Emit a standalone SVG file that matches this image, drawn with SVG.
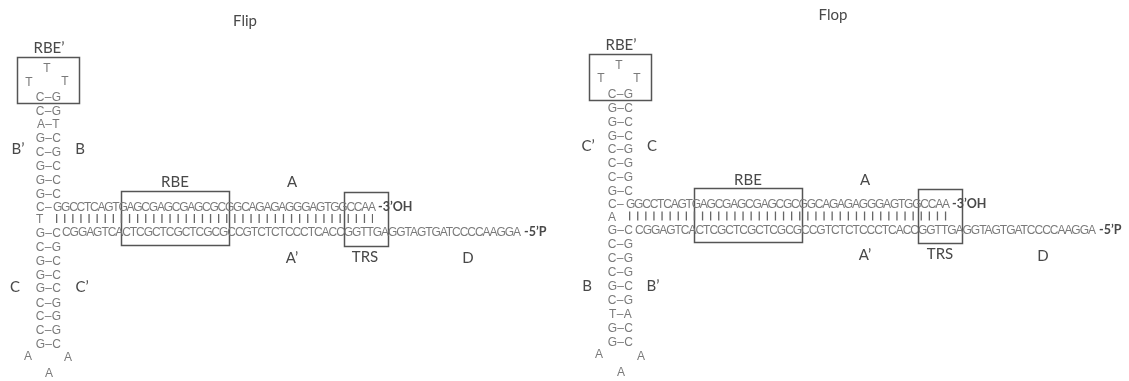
<svg xmlns="http://www.w3.org/2000/svg" width="1129" height="381" viewBox="0 0 1129 381">
<style>
.s{font-family:"Liberation Sans",Arial,sans-serif;font-size:12px;fill:#7a7a7a}
.r{font-family:"Liberation Sans",Arial,sans-serif;font-size:12px;fill:#7a7a7a;letter-spacing:0.3px}
.m{text-anchor:middle}
.l{font-family:Lato,"Liberation Sans",sans-serif;font-size:15px;fill:#484848;text-anchor:middle}
.e{font-family:Lato,"Liberation Sans",sans-serif;font-size:12.5px;font-weight:700;fill:#4a4a4a}
.b{fill:none;stroke:#555;stroke-width:1.5}
.t{stroke:#666;stroke-width:9;stroke-dasharray:1.3 6.8;fill:none}
</style>
<defs><filter id="soft" x="0" y="0" width="100%" height="100%"><feGaussianBlur stdDeviation="0.4"/></filter></defs>
<rect width="1129" height="381" fill="#fff"/>
<g filter="url(#soft)">
<g id="flip">
<text class="l" x="245" y="26">Flip</text>
<g id="flip-rbe-prime"><rect class="b" x="17.5" y="57.5" width="62" height="46"/><text class="l" x="49" y="53">RBE’</text></g>
<g id="flip-rbe"><rect class="b" x="121.5" y="191.5" width="108" height="54"/><text class="l" x="175" y="187">RBE</text></g>
<g id="flip-trs"><rect class="b" x="344.5" y="192.5" width="44" height="54"/><text class="l" x="365" y="262">TRS</text></g>
<g id="flip-labels">
<text class="l" x="292" y="187">A</text><text class="l" x="292" y="263">A’</text><text class="l" x="468" y="263">D</text>
<text class="l" x="18" y="154">B’</text><text class="l" x="80" y="154">B</text>
<text class="l" x="15" y="292">C</text><text class="l" x="82" y="292">C’</text>
</g>
<g id="flip-stem">
<text class="s m" x="47" y="72">T</text><text class="s m" x="29" y="86">T</text><text class="s m" x="65" y="85">T</text>
<text class="r m" x="48.5" y="101">C–G</text><text class="r m" x="48.5" y="115">C–G</text><text class="r m" x="48.5" y="128">A–T</text><text class="r m" x="48.5" y="142">G–C</text><text class="r m" x="48.5" y="156">C–G</text><text class="r m" x="48.5" y="170">G–C</text><text class="r m" x="48.5" y="184">G–C</text><text class="r m" x="48.5" y="198">G–C</text>
<text class="r" x="36" y="211">C–</text><text class="s" x="36" y="223">T</text>
<text class="r m" x="48.5" y="237">G–C</text><text class="r m" x="48.5" y="251">C–G</text><text class="r m" x="48.5" y="265">G–C</text><text class="r m" x="48.5" y="279">G–C</text><text class="r m" x="48.5" y="292">G–C</text><text class="r m" x="48.5" y="307">C–G</text><text class="r m" x="48.5" y="320">C–G</text><text class="r m" x="48.5" y="334">C–G</text><text class="r m" x="48.5" y="348">G–C</text>
<text class="s m" x="28" y="360">A</text><text class="s m" x="68" y="361">A</text><text class="s m" x="49" y="377">A</text>
</g>
<g id="flip-strands">
<text class="s" x="53" y="211" textLength="323">GGCCTCAGTGAGCGAGCGAGCGCGGCAGAGAGGGAGTGGCCAA</text>
<text class="s" x="62" y="236" textLength="459">CGGAGTCACTCGCTCGCTCGCGCCGTCTCTCCCTCACCGGTTGAGGTAGTGATCCCCAAGGA</text>
<text class="e" x="378" y="211">-3’OH</text><text class="e" x="524" y="236">-5’P</text>
</g>
</g>
<g id="flop">
<text class="l" x="833" y="20">Flop</text>
<g id="flop-rbe-prime"><rect class="b" x="589.5" y="54.5" width="62" height="46"/><text class="l" x="621" y="50">RBE’</text></g>
<g id="flop-rbe"><rect class="b" x="694.5" y="188.5" width="108" height="54"/><text class="l" x="748" y="185">RBE</text></g>
<g id="flop-trs"><rect class="b" x="918.5" y="189.5" width="44" height="54"/><text class="l" x="940" y="259">TRS</text></g>
<g id="flop-labels">
<text class="l" x="865" y="185">A</text><text class="l" x="865" y="260">A’</text><text class="l" x="1043" y="261">D</text>
<text class="l" x="588" y="151">C’</text><text class="l" x="652" y="151">C</text>
<text class="l" x="587" y="291">B</text><text class="l" x="653" y="291">B’</text>
</g>
<g id="flop-stem">
<text class="s m" x="619" y="69">T</text><text class="s m" x="601" y="82">T</text><text class="s m" x="637" y="82">T</text>
<text class="r m" x="620.5" y="98">C–G</text><text class="r m" x="620.5" y="112">G–C</text><text class="r m" x="620.5" y="126">G–C</text><text class="r m" x="620.5" y="140">G–C</text><text class="r m" x="620.5" y="153">C–G</text><text class="r m" x="620.5" y="167">C–G</text><text class="r m" x="620.5" y="181">C–G</text><text class="r m" x="620.5" y="195">G–C</text>
<text class="r" x="608" y="208">C–</text><text class="s" x="608" y="221">A</text>
<text class="r m" x="620.5" y="234">G–C</text><text class="r m" x="620.5" y="248">C–G</text><text class="r m" x="620.5" y="262">C–G</text><text class="r m" x="620.5" y="276">C–G</text><text class="r m" x="620.5" y="290">G–C</text><text class="r m" x="620.5" y="304">C–G</text><text class="r m" x="620.5" y="318">T–A</text><text class="r m" x="620.5" y="332">G–C</text><text class="r m" x="620.5" y="346">G–C</text>
<text class="s m" x="599" y="358">A</text><text class="s m" x="641" y="360">A</text><text class="s m" x="621" y="376">A</text>
</g>
<g id="flop-strands">
<text class="s" x="626" y="208" textLength="324">GGCCTCAGTGAGCGAGCGAGCGCGGCAGAGAGGGAGTGGCCAA</text>
<text class="s" x="635" y="234" textLength="461">CGGAGTCACTCGCTCGCTCGCGCCGTCTCTCCCTCACCGGTTGAGGTAGTGATCCCCAAGGA</text>
<text class="e" x="952" y="208">-3’OH</text><text class="e" x="1099" y="234">-5’P</text>
</g>
</g>
<g id="connectors">
<path class="t" d="M56 218.5H373"/>
<path class="t" d="M629 216H947"/>
</g>
</g>
</svg>
